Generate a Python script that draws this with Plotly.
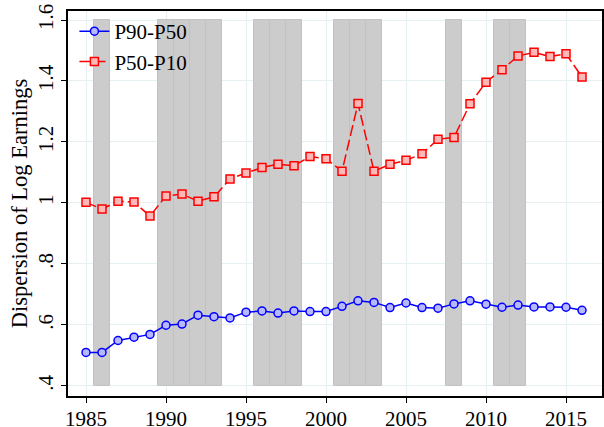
import plotly.graph_objects as go

years = list(range(1985, 2017))
p90_p50 = [0.510, 0.510, 0.549, 0.560, 0.569, 0.599, 0.603, 0.632, 0.627, 0.623,
           0.642, 0.646, 0.639, 0.646, 0.644, 0.644, 0.661, 0.679, 0.674, 0.657,
           0.672, 0.657, 0.655, 0.669, 0.679, 0.668, 0.658, 0.665, 0.659, 0.659,
           0.658, 0.648]
p50_p10 = [1.002, 0.980, 1.006, 1.003, 0.957, 1.023, 1.029, 1.006, 1.020, 1.079,
           1.098, 1.116, 1.127, 1.122, 1.152, 1.145, 1.104, 1.326, 1.104, 1.127,
           1.140, 1.161, 1.209, 1.215, 1.325, 1.396, 1.437, 1.482, 1.494, 1.480,
           1.489, 1.413]
recession_years = [1986, 1990, 1991, 1992, 1993, 1996, 1997, 1998,
                   2001, 2002, 2003, 2008, 2011, 2012]
shade_low, shade_high = 0.4, 1.6
x_ticks = [1985, 1990, 1995, 2000, 2005, 2010, 2015]
y_ticks = [0.4, 0.6, 0.8, 1.0, 1.2, 1.4, 1.6]
y_tick_labels = [".4", ".6", ".8", "1", "1.2", "1.4", "1.6"]

FONT = "Liberation Serif"

fig = go.Figure()
fig.add_trace(go.Bar(
    x=recession_years,
    y=[shade_high - shade_low] * len(recession_years),
    base=shade_low,
    width=1,
    marker=dict(color="#cccccc", line=dict(color="#c2c2c2", width=1)),
    showlegend=False,
    hoverinfo="skip",
))
fig.add_trace(go.Scatter(
    x=years, y=p90_p50, name="P90-P50", mode="lines+markers",
    line=dict(color="#0000ff", width=1.5),
    marker=dict(symbol="circle", size=8, color="#b8b8ff",
                line=dict(color="#0000ff", width=1.5)),
))
fig.add_trace(go.Scatter(
    x=years, y=p50_p10, name="P50-P10", mode="lines+markers",
    line=dict(color="#ff0000", width=1.5, dash="11px,4px"),
    marker=dict(symbol="square", size=8, color="#ffb8b8",
                line=dict(color="#ff0000", width=1.5)),
))

fig.update_layout(
    width=604, height=427,
    margin=dict(l=68, r=2, t=11, b=31, autoexpand=False),
    paper_bgcolor="white", plot_bgcolor="white",
    font=dict(family=FONT, size=21, color="#000000"),
    bargap=0,
    legend=dict(x=0.012, y=1.0, xanchor="left", yanchor="top",
                bgcolor="rgba(0,0,0,0)", font=dict(size=21),
                tracegroupgap=0, itemwidth=30),
    xaxis=dict(range=[1983.875, 2017.25], tickvals=x_ticks,
               showgrid=True, gridcolor="#e6eff1", gridwidth=1,
               ticks="outside", ticklen=5, tickcolor="#000000",
               showline=True, linecolor="#000000", linewidth=2, mirror=True,
               zeroline=False, tickfont=dict(size=21), automargin=False,
               ticklabeloverflow="allow", ticklabelstandoff=-2),
    yaxis=dict(range=[0.367, 1.6295], tickvals=y_ticks, ticktext=y_tick_labels,
               tickangle=-90,
               showgrid=True, gridcolor="#e6eff1", gridwidth=1,
               ticks="outside", ticklen=5, tickcolor="#000000",
               showline=True, linecolor="#000000", linewidth=2, mirror=True,
               zeroline=False, tickfont=dict(size=21), automargin=False,
               ticklabeloverflow="allow",
               title=dict(text="Dispersion of Log Earnings", font=dict(size=22.5),
                          standoff=0)),
)

# remove the default 8px page margin so the figure fills the window exactly
fig.write_html("out.html",
               config={"displayModeBar": False},
               post_script="document.body.style.margin='0';document.body.style.overflow='hidden';")
